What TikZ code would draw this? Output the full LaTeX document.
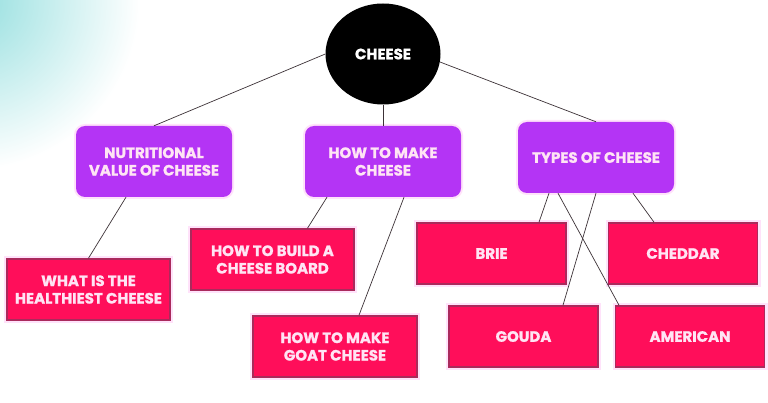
\documentclass[tikz,border=0pt]{standalone}
\usepackage{fontspec}
\setmainfont{Poppins}[BoldFont={Poppins Bold}, BoldFeatures={FakeBold=1.2}]
\usetikzlibrary{shapes.geometric}
\definecolor{topicpurple}{RGB}{180,52,245}
\definecolor{leafred}{RGB}{255,14,90}
\definecolor{leafedge}{RGB}{170,42,92}
\definecolor{glowpink}{RGB}{255,226,250}
\definecolor{textpink}{RGB}{255,228,244}
\definecolor{linegray}{RGB}{60,50,55}
\definecolor{cornercyan}{RGB}{120,214,214}

\begin{document}
\begin{tikzpicture}[x=1pt, y=-1pt,
    every node/.style={font=\bfseries\fontsize{15}{17.5}\selectfont, align=center},
    rootnode/.style={ellipse, fill=black, text=white, minimum width=115, minimum height=101, inner sep=0},
    topic/.style={rectangle, rounded corners=9, fill=topicpurple, text=textpink, minimum width=156, minimum height=71,
        preaction={draw=glowpink, line width=4pt}},
    leaf/.style={rectangle, fill=leafred, draw=leafedge, line width=1.6pt, text=textpink, minimum width=149, minimum height=61,
        preaction={draw=glowpink, line width=6pt}},
    link/.style={draw=linegray, line width=0.7pt}]
    \useasboundingbox (0,0) rectangle (768,403);
    \fill[white] (0,0) rectangle (768,403);
    % corner tint
    \begin{scope}
        \clip (0,0) rectangle (768,403);
        \shade[inner color=cornercyan!80, outer color=white] (-30,0) circle (170);
    \end{scope}

    \node[rootnode] (cheese) at (383,54) {CHEESE};

    \node[topic] (nutri) at (154,161.5) {NUTRITIONAL\\VALUE OF CHEESE};
    \node[topic] (make) at (383,161.5) {HOW TO MAKE\\CHEESE};
    \node[topic] (types) at (596,157.5) {TYPES OF CHEESE};

    \node[leaf, minimum width=163] (healthy) at (88.5,289.5) {WHAT IS THE\\HEALTHIEST CHEESE};
    \node[leaf, minimum width=163] (board) at (272.5,259.5) {HOW TO BUILD A\\CHEESE BOARD};
    \node[leaf, minimum width=164] (goat) at (335,346.5) {HOW TO MAKE\\GOAT CHEESE};
    \node[leaf] (brie) at (491.5,253.5) {BRIE};
    \node[leaf] (cheddar) at (683,253.5) {CHEDDAR};
    \node[leaf] (gouda) at (523.5,336.5) {GOUDA};
    \node[leaf] (american) at (690,336.5) {AMERICAN};

    \draw[link] (cheese.west) -- (nutri.north);
    \draw[link] (cheese.south) -- (make.north);
    \draw[link] (cheese.-8) -- (types.north);
    \draw[link] ([xshift=-28]nutri.south) -- (healthy.north);
    \draw[link] ([xshift=-56]make.south) -- ([xshift=35]board.north);
    \draw[link] ([xshift=21]make.south) -- ([xshift=24]goat.north);
    \draw[link] ([xshift=-47]types.south) -- ([xshift=47.5]brie.north);
    \draw[link] ([xshift=-38]types.south) -- ([xshift=-71]american.north);
    \draw[link] (types.south) -- ([xshift=39.5]gouda.north);
    \draw[link] ([xshift=37]types.south) -- ([xshift=-29]cheddar.north);
\end{tikzpicture}
\end{document}
